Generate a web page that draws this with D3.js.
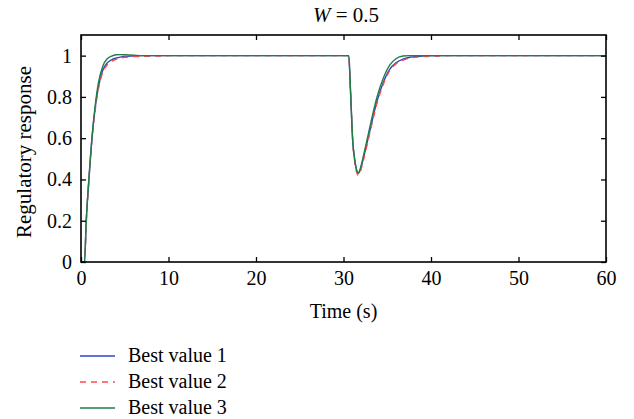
<!DOCTYPE html>
<html>
<head>
<meta charset="utf-8">
<script src="https://cdn.jsdelivr.net/npm/d3@7"></script>
<style>
  html, body { margin: 0; padding: 0; background: #fff; }
  svg { display: block; }
</style>
</head>
<body>
<svg id="chart" width="634" height="419"></svg>
<script>
// Sample times (s) shared by all three responses
const times = [0, 0.4, 0.6, 0.9, 1.25, 1.6, 2.0, 2.5, 3.0, 3.5, 4.0, 4.5, 5.0, 6.0, 7.0, 8.0, 9.0, 10,
               30.6, 30.8, 31.05, 31.3, 31.5, 31.7, 31.9, 32.2, 32.6, 33.2, 33.8, 34.5, 35.3, 36.0,
               36.8, 37.6, 38.4, 39.5, 41, 42, 60];

const bestValue1 = [0, 0, 0.2, 0.4, 0.6, 0.74, 0.85, 0.93, 0.965, 0.98, 0.988, 0.993, 0.996, 0.998, 1, 1, 1, 1,
                    1, 0.83, 0.59, 0.49, 0.445, 0.43, 0.445, 0.49, 0.56, 0.67, 0.775, 0.865, 0.935, 0.965,
                    0.983, 0.992, 0.996, 0.999, 1, 1, 1];
const bestValue2 = [0, 0, 0.19, 0.39, 0.59, 0.73, 0.84, 0.92, 0.955, 0.972, 0.982, 0.988, 0.992, 0.995, 0.996, 0.997, 0.998, 1,
                    1, 0.83, 0.59, 0.48, 0.435, 0.42, 0.435, 0.48, 0.55, 0.66, 0.765, 0.855, 0.928, 0.96,
                    0.978, 0.988, 0.993, 0.996, 0.998, 1, 1];
const bestValue3 = [0, 0, 0.2, 0.4, 0.6, 0.75, 0.87, 0.95, 0.985, 0.998, 1.004, 1.005, 1.004, 1.002, 1.0, 1, 1, 1,
                    1, 0.83, 0.59, 0.49, 0.445, 0.432, 0.45, 0.5, 0.575, 0.69, 0.795, 0.885, 0.955, 0.985,
                    0.998, 1.0, 1.0, 1, 1, 1, 1];

const seriesNames = ["Best value 1", "Best value 2", "Best value 3"];
const seriesColors = ["#2846c8", "#ff4a4a", "#1f7f46"];
const seriesDash = [null, "6,5", null];

const xTicks = [0, 10, 20, 30, 40, 50, 60];
const yTicks = [0, 0.2, 0.4, 0.6, 0.8, 1];

const serif = "'Liberation Serif', 'Times New Roman', 'DejaVu Serif', serif";

const series = [bestValue1, bestValue2, bestValue3].map((vals, i) => ({
  name: seriesNames[i], color: seriesColors[i], dash: seriesDash[i],
  points: times.map((t, j) => ({ t, v: vals[j] }))
}));

const svg = d3.select("#chart");
const margin = { left: 81, right: 28, top: 35, bottom: 157 };
const W = 634, H = 419;
const iw = W - margin.left - margin.right;
const ih = H - margin.top - margin.bottom;

const x = d3.scaleLinear().domain([0, 60]).range([0, iw]);
const y = d3.scaleLinear().domain([0, 1.1]).range([ih, 0]);

const g = svg.append("g").attr("transform", `translate(${margin.left},${margin.top})`);

// response curves
const line = d3.line().x(d => x(d.t)).y(d => y(d.v)).curve(d3.curveMonotoneX);
series.forEach(s => {
  g.append("path")
    .datum(s.points)
    .attr("fill", "none")
    .attr("stroke", s.color)
    .attr("stroke-width", 1.4)
    .attr("stroke-dasharray", s.dash)
    .attr("d", line);
});

// boxed axes with inward ticks
const tickFs = 20;
const tickLen = 5;
const axisStyle = sel => {
  sel.select(".domain").remove();
  sel.selectAll(".tick line").attr("stroke", "#000").attr("stroke-width", 1.3);
  sel.selectAll("text").style("font-family", serif).style("font-size", tickFs + "px").attr("fill", "#000");
};

g.append("g").attr("transform", `translate(0,${ih})`)
  .call(d3.axisBottom(x).tickValues(xTicks).tickSizeInner(-tickLen).tickSizeOuter(0).tickPadding(9).tickFormat(d3.format("d")))
  .call(axisStyle);
g.append("g")
  .call(d3.axisTop(x).tickValues(xTicks).tickSizeInner(-tickLen).tickSizeOuter(0).tickFormat(""))
  .call(axisStyle);
g.append("g")
  .call(d3.axisLeft(y).tickValues(yTicks).tickSizeInner(-tickLen).tickSizeOuter(0).tickPadding(9).tickFormat(d => d === 0 || d === 1 ? d3.format("d")(d) : d3.format(".1f")(d)))
  .call(axisStyle);
g.append("g").attr("transform", `translate(${iw},0)`)
  .call(d3.axisRight(y).tickValues(yTicks).tickSizeInner(-tickLen).tickSizeOuter(0).tickFormat(""))
  .call(axisStyle);

g.append("rect")
  .attr("width", iw).attr("height", ih)
  .attr("fill", "none").attr("stroke", "#000").attr("stroke-width", 1.6);

// title
const title = svg.append("text")
  .attr("x", 346).attr("y", 22)
  .attr("text-anchor", "middle")
  .style("font-family", serif).style("font-size", "21px");
title.append("tspan").attr("font-style", "italic").text("W");
title.append("tspan").text(" = 0.5");

// axis titles
svg.append("text")
  .attr("x", margin.left + iw / 2).attr("y", 318)
  .attr("text-anchor", "middle")
  .style("font-family", serif).style("font-size", "20px")
  .text("Time (s)");
svg.append("text")
  .attr("transform", "translate(31,152) rotate(-90)")
  .attr("text-anchor", "middle")
  .style("font-family", serif).style("font-size", "21px")
  .text("Regulatory response");

// legend
const legend = svg.append("g");
series.forEach((s, i) => {
  const ly = 356 + i * 26;
  legend.append("line")
    .attr("x1", 80).attr("x2", 115).attr("y1", ly).attr("y2", ly)
    .attr("stroke", s.color).attr("stroke-width", 1.3)
    .attr("stroke-dasharray", s.dash);
  legend.append("text")
    .attr("x", 128).attr("y", ly + 6)
    .style("font-family", serif).style("font-size", "20px")
    .text(s.name);
});
</script>
</body>
</html>
